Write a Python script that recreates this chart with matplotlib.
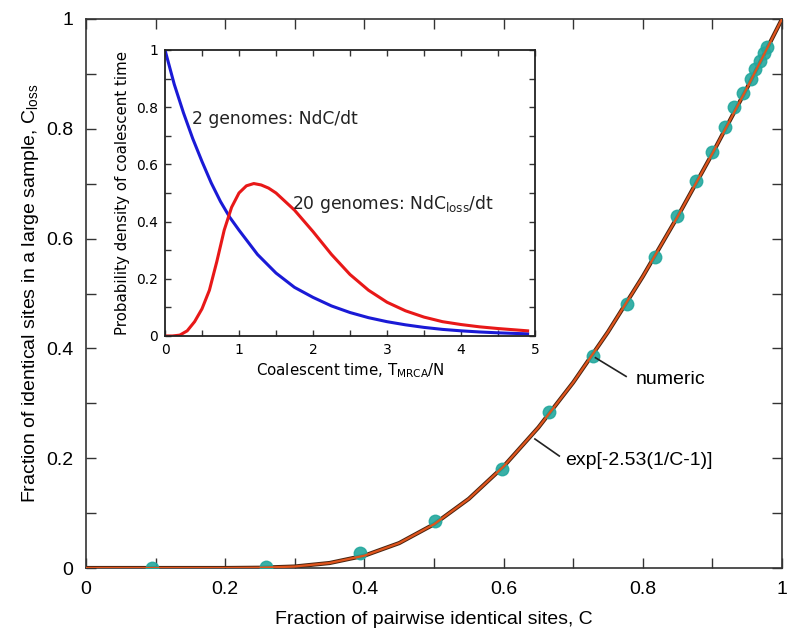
import matplotlib
matplotlib.use("Agg")
import matplotlib.pyplot as plt
from matplotlib.ticker import MultipleLocator

# ---------------- data ----------------
# numeric points (teal markers)
c_points = [0.095, 0.259, 0.394, 0.501, 0.598, 0.665, 0.728, 0.777, 0.818, 0.849,
            0.876, 0.899, 0.918, 0.931, 0.944, 0.955, 0.961, 0.968, 0.974, 0.978]
closs_points = [0.000, 0.002, 0.027, 0.085, 0.180, 0.284, 0.386, 0.481, 0.566, 0.641,
                0.705, 0.758, 0.803, 0.840, 0.865, 0.891, 0.909, 0.923, 0.938, 0.949]

# curve exp[-2.53(1/C-1)]
c_curve = [0.0, 0.2, 0.25, 0.3, 0.35, 0.4, 0.45, 0.5, 0.55, 0.6, 0.65, 0.7,
           0.75, 0.8, 0.85, 0.9, 0.95, 1.0]
closs_curve = [0.0, 0.0, 0.0005, 0.0027, 0.0091, 0.0225, 0.0454, 0.0797, 0.126, 0.185,
               0.256, 0.338, 0.430, 0.531, 0.640, 0.755, 0.875, 1.0]

# inset: 2 genomes
t_blue = [0.0, 0.125, 0.25, 0.375, 0.5, 0.625, 0.75, 0.875, 1.0, 1.25, 1.5, 1.75, 2.0,
          2.25, 2.5, 2.75, 3.0, 3.25, 3.5, 3.75, 4.0, 4.25, 4.5, 4.75, 4.9]
p_blue = [1.0, 0.88, 0.78, 0.69, 0.61, 0.535, 0.47, 0.415, 0.37, 0.285, 0.22, 0.17,
          0.135, 0.105, 0.082, 0.064, 0.05, 0.039, 0.03, 0.023, 0.018, 0.014, 0.011,
          0.0087, 0.0075]
# inset: 20 genomes
t_red = [0.0, 0.1, 0.2, 0.3, 0.4, 0.5, 0.6, 0.7, 0.8, 0.9, 1.0, 1.1, 1.2, 1.3, 1.4,
         1.5, 1.75, 2.0, 2.25, 2.5, 2.75, 3.0, 3.25, 3.5, 3.75, 4.0, 4.25, 4.5, 4.9]
p_red = [0.0, 0.0, 0.003, 0.018, 0.05, 0.095, 0.16, 0.26, 0.37, 0.45, 0.50, 0.525,
         0.533, 0.528, 0.517, 0.50, 0.44, 0.365, 0.285, 0.215, 0.16, 0.118, 0.088,
         0.066, 0.05, 0.04, 0.032, 0.026, 0.018]

main_ticks = [0, 0.2, 0.4, 0.6, 0.8, 1]
main_ticklabels = ["0", "0.2", "0.4", "0.6", "0.8", "1"]
inset_xticks = [0, 1, 2, 3, 4, 5]
inset_xticklabels = ["0", "1", "2", "3", "4", "5"]
inset_yticks = [0, 0.2, 0.4, 0.6, 0.8, 1]
inset_yticklabels = ["0", "0.2", "0.4", "0.6", "0.8", "1"]

# ---------------- figure ----------------
fig = plt.figure(figsize=(8.0, 6.44), dpi=100)
main_font = "Liberation Sans"

ax = fig.add_axes([0.1075, 0.118, 0.870, 0.8525])
ax.plot(c_curve, closs_curve, color="#4a2410", lw=3.0, zorder=2, solid_capstyle="butt")
ax.plot(c_points, closs_points, "o", ms=9, color="#23a89e", mec="#23a89e", alpha=0.9,
        zorder=3)
ax.plot(c_curve, closs_curve, color="#e0541c", lw=1.6, zorder=4, solid_capstyle="butt")

ax.set_xlim(0, 1)
ax.set_ylim(0, 1)
ax.set_xticks(main_ticks)
ax.set_xticklabels(main_ticklabels, fontfamily=main_font, fontsize=14)
ax.set_yticks(main_ticks)
ax.set_yticklabels(main_ticklabels, fontfamily=main_font, fontsize=14)
ax.xaxis.set_minor_locator(MultipleLocator(0.1))
ax.yaxis.set_minor_locator(MultipleLocator(0.1))
ax.tick_params(which="both", direction="in", top=True, right=True, length=7,
               width=1.0, color="#333333")
ax.tick_params(which="major", pad=9)
for s in ax.spines.values():
    s.set_linewidth(1.2)
    s.set_color("#333333")
ax.set_xlabel("Fraction of pairwise identical sites, C", fontfamily=main_font,
              fontsize=14, labelpad=10)
ax.set_ylabel("Fraction of identical sites in a large sample, C$_{\\mathregular{loss}}$",
              fontfamily=main_font, fontsize=14, labelpad=4)

# annotations
ax.plot([0.732, 0.776], [0.383, 0.349], color="#222222", lw=1.2, zorder=5)
ax.text(0.790, 0.343, "numeric", fontfamily=main_font, fontsize=14, va="center",
        ha="left")
ax.plot([0.645, 0.680], [0.235, 0.204], color="#222222", lw=1.2, zorder=5)
ax.text(0.688, 0.195, "exp[-2.53(1/C-1)]", fontfamily=main_font, fontsize=14,
        va="center", ha="left")

# ---------------- inset ----------------
ins = fig.add_axes([0.20625, 0.4783, 0.4625, 0.4441])
ins.set_facecolor("white")
ins.plot(t_blue, p_blue, color="#1a1ad6", lw=2.2)
ins.plot(t_red, p_red, color="#e81818", lw=2.2)
ins.set_xlim(0, 5)
ins.set_ylim(0, 1)
ins.set_xticks(inset_xticks)
ins.set_xticklabels(inset_xticklabels, fontsize=10)
ins.set_yticks(inset_yticks)
ins.set_yticklabels(inset_yticklabels, fontsize=10)
ins.xaxis.set_minor_locator(MultipleLocator(0.5))
ins.yaxis.set_minor_locator(MultipleLocator(0.1))
ins.tick_params(which="both", direction="in", top=True, right=True, length=4,
                width=1.0, color="#333333")
ins.tick_params(which="major", pad=5)
for s in ins.spines.values():
    s.set_linewidth(1.3)
    s.set_color("#222222")
ins.set_xlabel("Coalescent time, T$_{\\mathregular{MRCA}}$/N", fontsize=10.8, labelpad=3)
ins.set_ylabel("Probability density of coalescent time", fontsize=10.8, labelpad=4)
ins.text(0.36, 0.76, "2 genomes: NdC/dt", fontsize=12.3, va="center", ha="left",
         color="#222222")
ins.text(1.72, 0.46, "20 genomes: NdC$_{\\mathregular{loss}}$/dt", fontsize=12.3,
         va="center", ha="left", color="#222222")

fig.savefig("out.png", dpi=100)
